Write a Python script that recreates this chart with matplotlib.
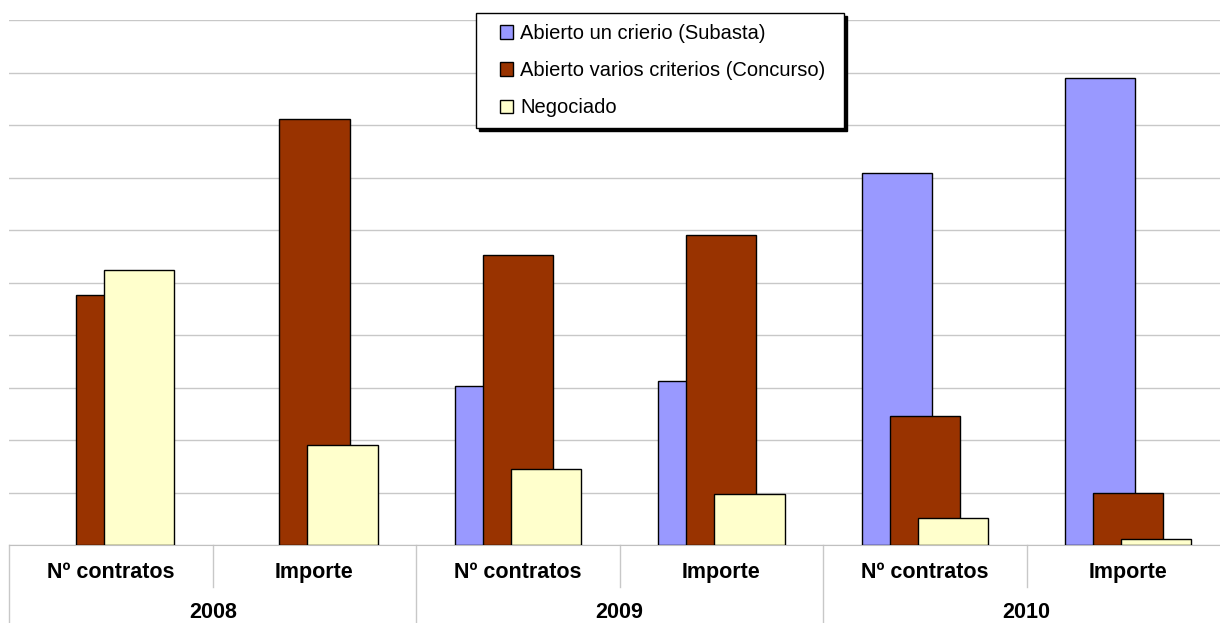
import matplotlib.pyplot as plt
import matplotlib.patches as mpatches
from matplotlib.container import BarContainer
from matplotlib.legend_handler import HandlerPatch
import numpy as np

plt.rcParams['font.family'] = ['Liberation Sans', 'DejaVu Sans']

years = ['2008', '2009', '2010']
categories = ['Nº contratos', 'Importe'] * 3
series = ['Abierto un crierio (Subasta)', 'Abierto varios criterios (Concurso)', 'Negociado']
subasta = [0, 0, 3.03, 3.12, 7.08, 8.90]
concurso = [4.76, 8.11, 5.53, 5.90, 2.46, 1.00]
negociado = [5.24, 1.90, 1.45, 0.97, 0.51, 0.11]
colors = ['#9999FF', '#993300', '#FFFFCC']

W, H = 1220, 623
fig = plt.figure(figsize=(W / 100, H / 100), dpi=100)
left, right, top, base = 9.25, 1230, 20, 545
ax = fig.add_axes([left / W, (H - base) / H, (right - left) / W, (base - top) / H])

x = np.arange(len(categories))
width = 0.345
step = 0.138
for k, vals in enumerate([subasta, concurso, negociado]):
    edges = ['black' if v > 0 else 'none' for v in vals]
    lws = [1 if v > 0 else 0 for v in vals]
    ax.bar(x + (k - 1) * step, vals, width, color=colors[k], edgecolor=edges,
           linewidth=lws, label=series[k], zorder=3 + k)

ax.set_xlim(-0.5, len(categories) - 0.5)
ax.set_ylim(0, 10)
ax.set_yticks(np.arange(0, 11, 1))
ax.yaxis.grid(True, color='#C8C8C8', linewidth=1)
ax.set_axisbelow(True)
for s in ['top', 'right', 'left']:
    ax.spines[s].set_visible(False)
ax.spines['bottom'].set_color('#C0C0C0')
ax.tick_params(left=False, bottom=False, labelleft=False, labelbottom=False)

# category table under the axis
tr = ax.get_xaxis_transform()
bottom_frac = -(H - base) / (base - top)
for i, c in enumerate(categories):
    ax.text(i, -0.053, c, transform=tr, ha='center', va='center',
            fontsize=15.5, fontweight='bold')
for j, y in enumerate(years):
    ax.text(2 * j + 0.5, -0.129, y, transform=tr, ha='center', va='center',
            fontsize=15.5, fontweight='bold')
for b in [0.5, 2.5, 4.5]:
    ax.plot([b, b], [0, -0.08], transform=tr, color='#C8C8C8', lw=1, clip_on=False)
for b in [-0.5, 1.5, 3.5, 5.5]:
    ax.plot([b, b], [0, bottom_frac], transform=tr, color='#C8C8C8', lw=1, clip_on=False)


def square(legend, orig_handle, xdescent, ydescent, width, height, fontsize):
    return mpatches.Rectangle((width - height - xdescent, -ydescent), height, height)


def first_child(tgt, orig):
    tgt.update_from(orig.patches[0])
    tgt.set_edgecolor('black')
    tgt.set_linewidth(1)


handles, labels = ax.get_legend_handles_labels()
leg = fig.legend(handles, labels, loc='upper left',
                 bbox_to_anchor=(476 / W, 1 - 127 / H, 368 / W, 114 / H), mode='expand',
                 fontsize=14.5, frameon=True, fancybox=False, borderaxespad=0,
                 borderpad=0.55, labelspacing=0.9, handlelength=1.3, handleheight=0.65,
                 handletextpad=0.35,
                 handler_map={BarContainer: HandlerPatch(patch_func=square, update_func=first_child)},
                 shadow={'facecolor': 'black', 'edgecolor': 'black', 'alpha': 1})
leg.get_frame().set_edgecolor('black')
leg.get_frame().set_linewidth(1)
leg.get_frame().set_alpha(1)

fig.savefig('out.png', dpi=100)
